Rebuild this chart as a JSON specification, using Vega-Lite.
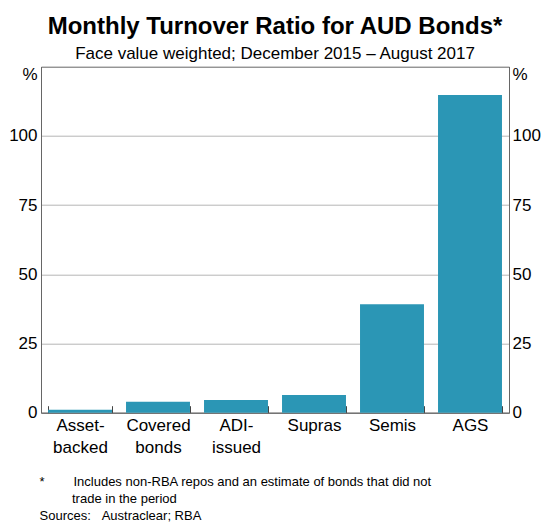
{
  "$schema": "https://vega.github.io/schema/vega-lite/v6.json",
  "autosize": "none",
  "width": 468,
  "height": 346,
  "padding": {"left": 41, "top": 66.7, "right": 33, "bottom": 111.3},
  "background": "white",
  "title": {
    "text": "Monthly Turnover Ratio for AUD Bonds*",
    "subtitle": "Face value weighted; December 2015 – August 2017",
    "anchor": "middle",
    "font": "Liberation Sans",
    "fontSize": 24,
    "fontWeight": "bold",
    "color": "#000000",
    "subtitleFont": "Liberation Sans",
    "subtitleFontSize": 17,
    "subtitleColor": "#000000",
    "subtitlePadding": 7,
    "offset": 4
  },
  "data": {
    "values": [
      {"category": "Asset-backed", "ratio": 1.1},
      {"category": "Covered bonds", "ratio": 4.0},
      {"category": "ADI-issued", "ratio": 4.6},
      {"category": "Supras", "ratio": 6.4},
      {"category": "Semis", "ratio": 39.2},
      {"category": "AGS", "ratio": 114.8}
    ]
  },
  "encoding": {
    "x": {
      "field": "category",
      "type": "nominal",
      "sort": null,
      "scale": {"paddingInner": 0.18, "paddingOuter": 0.09},
      "axis": {
        "title": [
          "*\u00a0\u00a0\u00a0\u00a0\u00a0\u00a0\u00a0\u00a0Includes non-RBA repos and an estimate of bonds that did not",
          "\u200b\u00a0\u00a0\u00a0\u00a0\u00a0\u00a0\u00a0\u00a0\u00a0trade in the period",
          "Sources:\u00a0\u00a0\u00a0Austraclear; RBA"
        ],
        "titleAnchor": "start",
        "titleAlign": "left",
        "titleX": -2,
        "titleY": 73,
        "titleBaseline": "alphabetic",
        "titleFont": "Liberation Sans",
        "titleFontSize": 13,
        "titleFontWeight": "normal",
        "titleLineHeight": 17,
        "titleColor": "#000000",
        "labelAngle": 0,
        "labelExpr": "datum.label == 'Asset-backed' ? ['Asset-', 'backed'] : datum.label == 'ADI-issued' ? ['ADI-', 'issued'] : split(datum.label, ' ')",
        "labelFont": "Liberation Sans",
        "labelFontSize": 17,
        "labelColor": "#000000",
        "labelLineHeight": 22,
        "labelBaseline": "alphabetic",
        "labelPadding": 25,
        "tickBand": "extent",
        "tickSize": -7,
        "tickColor": "#444444",
        "domainColor": "#666666",
        "grid": false
      }
    }
  },
  "layer": [
    {
      "mark": {"type": "bar", "color": "#2b96b5"},
      "encoding": {
        "y": {
          "field": "ratio",
          "type": "quantitative",
          "scale": {"domain": [0, 125], "nice": false},
          "axis": {
            "orient": "left",
            "title": null,
            "values": [0, 25, 50, 75, 100, 125],
            "labelExpr": "datum.value == 125 ? '%' : datum.label",
            "labelFont": "Liberation Sans",
            "labelFontSize": 17,
            "labelColor": "#000000",
            "labelPadding": 4,
            "labelOffset": {"condition": {"test": "datum.value == 125", "value": 8}, "value": 0},
            "ticks": false,
            "domainColor": "#666666",
            "grid": true,
            "gridColor": "#b5b5b5",
            "gridOpacity": {"condition": {"test": "datum.value == 0 || datum.value == 125", "value": 0}, "value": 1}
          }
        }
      }
    },
    {
      "mark": {"type": "bar", "opacity": 0},
      "encoding": {
        "y": {
          "field": "ratio",
          "type": "quantitative",
          "scale": {"domain": [0, 125], "nice": false},
          "axis": {
            "orient": "right",
            "title": null,
            "values": [0, 25, 50, 75, 100, 125],
            "labelExpr": "datum.value == 125 ? '%' : datum.label",
            "labelFont": "Liberation Sans",
            "labelFontSize": 17,
            "labelColor": "#000000",
            "labelPadding": 3,
            "labelOffset": {"condition": {"test": "datum.value == 125", "value": 8}, "value": 0},
            "ticks": false,
            "domainColor": "#666666",
            "grid": false
          }
        }
      }
    }
  ],
  "resolve": {"axis": {"y": "independent"}},
  "config": {
    "view": {"stroke": "#666666", "strokeWidth": 1}
  }
}
